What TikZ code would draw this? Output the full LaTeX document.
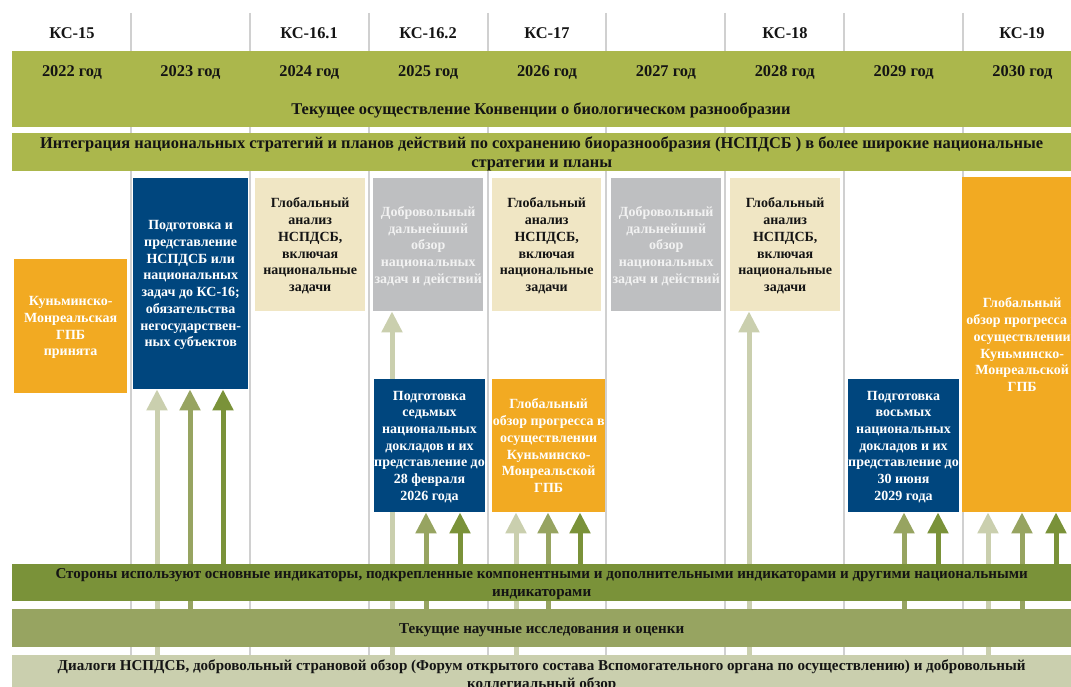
\documentclass[tikz,border=0pt]{standalone}
\usepackage{fontspec}
\setmainfont{Liberation Serif}
\usetikzlibrary{arrows.meta}
\definecolor{topgreen}{RGB}{171,183,76}
\definecolor{indcol}{RGB}{122,146,57}
\definecolor{scicol}{RGB}{151,164,97}
\definecolor{dlgcol}{RGB}{202,207,174}
\definecolor{amber}{RGB}{242,170,34}
\definecolor{navy}{RGB}{0,70,126}
\definecolor{beige}{RGB}{240,230,196}
\definecolor{greybox}{RGB}{190,191,193}
\definecolor{greytext}{RGB}{242,242,242}
\definecolor{gridgray}{RGB}{208,208,208}
\definecolor{ink}{RGB}{20,20,20}
\pgfdeclarelayer{bg}
\pgfsetlayers{bg,main}

\begin{document}
\begin{tikzpicture}[x=1pt,y=-1pt,
  head/.style={text=ink,font=\fontsize{16.4}{18}\selectfont\bfseries},
  band/.style={anchor=north west,inner sep=0pt,align=center,text=ink,text depth=0pt,minimum width=1059,font=\fontsize{16.4}{19}\selectfont\bfseries},
  lowband/.style={band,font=\fontsize{15.1}{18}\selectfont\bfseries},
  cell/.style={anchor=north west,inner sep=0pt,align=center,text depth=0pt,font=\fontsize{14}{16.7}\selectfont\bfseries},
  vline/.style={draw=gridgray,line width=2pt},
  arrL/.style={draw=dlgcol,line width=5pt,-{Triangle[width=20pt,length=21pt]}},
  arrM/.style={draw=scicol,line width=5pt,-{Triangle[width=20pt,length=21pt]}},
  arrD/.style={draw=indcol,line width=5pt,-{Triangle[width=20pt,length=21pt]}}]
\useasboundingbox(0,0)rectangle(1071,687);
\clip(0,0)rectangle(1071,687);
\foreach \x/\t[count=\i] in {72/КС-15,309/КС-16.1,428/КС-16.2,547/КС-17,785/КС-18,1022/КС-19}
  \node[head](kc\i)at(\x,33){\t};
\node[band,fill=topgreen,minimum height=76](top)at(12,51){};
\foreach \y[count=\i] in {2022,...,2030}
  \node[head](yr\i)at({\i==1?72:131+118.86*(\i-1.5)},72){\y~год};
\node[head](cbd)at(541,110){Текущее осуществление Конвенции о биологическом разнообразии};
\node[band,fill=topgreen,minimum height=38](integ)at(12,133){Интеграция национальных стратегий и планов действий по сохранению биоразнообразия (НСПДСБ ) в более широкие национальные\\стратегии и планы};
\node[lowband,fill=indcol,minimum height=37](ind)at(12,564){Стороны используют основные индикаторы, подкрепленные компонентными и дополнительными индикаторами и другими национальными\\индикаторами};
\node[lowband,fill=scicol,minimum height=38](sci)at(12,609){Текущие научные исследования и оценки};
\node[lowband,fill=dlgcol,minimum height=38](dlg)at(12,655){Диалоги НСПДСБ, добровольный страновой обзор (Форум открытого состава Вспомогательного органа по осуществлению) и добровольный\\коллегиальный обзор};
\node[cell,fill=amber,text=white,minimum width=113,minimum height=134](kmgbf)at(14,259){Куньминско-\\Монреальская\\ГПБ\\принята};
\node[cell,fill=navy,text=white,minimum width=115,minimum height=211](nbsap)at(133,178){Подготовка и\\представление\\НСПДСБ или\\национальных\\задач до КС-16;\\обязательства\\негосударствен-\\ных субъектов};
\node[cell,fill=beige,text=ink,minimum width=110,minimum height=133](ga24)at(255,178){Глобальный\\анализ\\НСПДСБ,\\включая\\национальные\\задачи};
\node[cell,fill=greybox,text=greytext,minimum width=110,minimum height=133](vr25)at(373,178){Добровольный\\дальнейший\\обзор\\национальных\\задач и действий};
\node[cell,fill=beige,text=ink,minimum width=109,minimum height=133](ga26)at(492,178){Глобальный\\анализ\\НСПДСБ,\\включая\\национальные\\задачи};
\node[cell,fill=greybox,text=greytext,minimum width=110,minimum height=133](vr27)at(611,178){Добровольный\\дальнейший\\обзор\\национальных\\задач и действий};
\node[cell,fill=beige,text=ink,minimum width=110,minimum height=133](ga28)at(730,178){Глобальный\\анализ\\НСПДСБ,\\включая\\национальные\\задачи};
\node[cell,fill=navy,text=white,minimum width=109,minimum height=133](nr7)at(374,379){Подготовка\\седьмых\\национальных\\докладов и их\\представление до\\28 февраля\\2026 года};
\node[cell,fill=amber,text=white,minimum width=113,minimum height=133](gr26)at(492,379){Глобальный\\обзор прогресса в\\осуществлении\\Куньминско-\\Монреальской\\ГПБ};
\node[cell,fill=navy,text=white,minimum width=110,minimum height=133](nr8)at(848,379){Подготовка\\восьмых\\национальных\\докладов и их\\представление до\\30 июня\\2029 года};
\node[cell,fill=amber,text=white,minimum width=120,minimum height=335](gr30)at(962,177){Глобальный\\обзор прогресса в\\осуществлении\\Куньминско-\\Монреальской\\ГПБ};
\begin{pgfonlayer}{bg}
\fill[white](0,0)rectangle(1071,687);
\foreach \x in {131,250,369,488,606,725,844,963}
  \draw[vline](\x,13)--(\x,687);
\foreach \x/\b in {157/nbsap,392/vr25,516/gr26,749/ga28,988/gr30}
  \draw[arrL](\x,0 |- dlg.north)--(\x,0 |- \b.south);
\foreach \x/\b in {190/nbsap,426/nr7,548/gr26,904/nr8,1022/gr30}
  \draw[arrM](\x,0 |- sci.north)--(\x,0 |- \b.south);
\foreach \x/\b in {223/nbsap,460/nr7,580/gr26,938/nr8,1056/gr30}
  \draw[arrD](\x,0 |- ind.north)--(\x,0 |- \b.south);
\end{pgfonlayer}
\end{tikzpicture}
\end{document}
